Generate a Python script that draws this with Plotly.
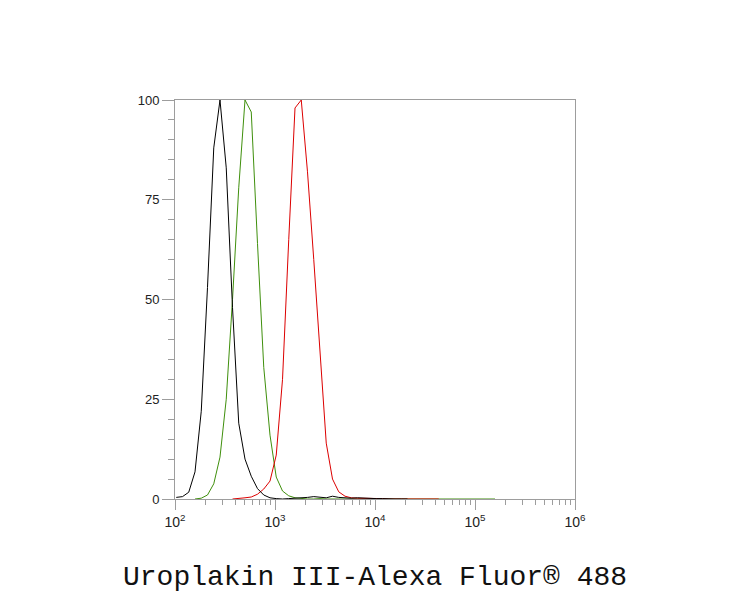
import plotly.graph_objects as go

# histogram bin centres (channel values, log-spaced)
channels = [
    102.9, 118.9, 137.2, 158.5, 183.0, 211.3, 244.1, 281.8, 325.4, 375.8,
    433.9, 501.2, 578.8, 668.3, 771.8, 891.3, 1029, 1189, 1372, 1585,
    1830, 2113, 2441, 2818, 3254, 3758, 4339, 5012, 5788, 6683,
    7718, 8913, 10290, 11890, 13720, 15850, 18300, 21130, 24410, 28180,
    32540, 37580, 43390, 50120, 57880, 66830, 77180, 89130, 102900, 118900,
    137200, 158500,
]

# % of max counts
black_counts = [
    0.4, 0.6, 1.7, 6.8, 22, 53, 88, 100, 83, 48,
    19, 10, 5.7, 2.6, 1.0, 0.3, 0.1, 0, 0.1, 0.2,
    0.2, 0.4, 0.6, 0.4, 0.3, 0.7, 0.4, 0.3, 0.2, 0.3,
    0.2, 0.2, 0.1, 0.1, 0, 0, 0, 0,
]
green_counts = [
    None, None, None, 0, 0.2, 1.0, 3.8, 10.5, 25, 50,
    78, 100, 97, 64, 33, 16, 5.5, 2.0, 0.8, 0.3,
    0.1, 0, 0, 0.1, 0, 0, 0.1, 0, 0, 0,
    0, 0, 0, 0, 0, 0, 0, 0, 0, 0,
    0, 0, 0, 0, 0, 0, 0, 0, 0, 0,
    0, 0,
]
red_counts = [
    None, None, None, None, None, None, None, None, None, 0,
    0.1, 0.3, 0.5, 1.2, 2.5, 4.5, 11, 30, 65, 98,
    100, 82, 60, 37, 14, 5, 1.8, 0.7, 0.3, 0.2,
    0.2, 0.1, 0.2, 0.1, 0, 0, 0, 0, 0, 0,
    0, 0, 0,
]

series = [
    ("Control", green_counts, "#3f8f0c"),
    ("Uroplakin III", red_counts, "#dc0000"),
    ("Isotype", black_counts, "#000000"),
]

x_major = [1e2, 1e3, 1e4, 1e5, 1e6]
x_major_text = ["10<sup>2</sup>", "10<sup>3</sup>", "10<sup>4</sup>", "10<sup>5</sup>", "10<sup>6</sup>"]
x_minor = [m * 10 ** e for e in range(2, 6) for m in range(2, 10)]
y_major = [0, 25, 50, 75, 100]
y_minor = list(range(0, 101, 5))

title_text = "Uroplakin III-Alexa Fluor® 488"

fig = go.Figure()
for name, vals, color in series:
    fig.add_trace(go.Scatter(
        x=channels[:len(vals)], y=vals, mode="lines", name=name,
        line=dict(color=color, width=1), showlegend=False, hoverinfo="skip",
    ))

axis_color = "#9d9d9d"
fig.update_layout(
    width=750, height=600,
    margin=dict(l=175, r=175, t=100, b=101),
    paper_bgcolor="white", plot_bgcolor="white",
    xaxis=dict(
        type="log", range=[2, 6], showgrid=False, zeroline=False,
        showline=True, linecolor=axis_color, linewidth=1, mirror=True,
        ticks="outside", ticklen=10, tickcolor=axis_color, tickwidth=1,
        tickmode="array", tickvals=x_major, ticktext=x_major_text,
        tickfont=dict(family="Liberation Sans, Arial", size=14, color="#222222"),
        minor=dict(ticks="outside", ticklen=5, tickcolor=axis_color, tickwidth=1,
                   tickmode="array", tickvals=x_minor, showgrid=False),
        layer="below traces",
    ),
    yaxis=dict(
        range=[0, 100], showgrid=False, zeroline=False,
        showline=True, linecolor=axis_color, linewidth=1, mirror=True,
        ticks="outside", ticklen=12, tickcolor=axis_color, tickwidth=1,
        tickmode="array", tickvals=y_major,
        tickfont=dict(family="Liberation Sans, Arial", size=13, color="#222222"),
        minor=dict(ticks="outside", ticklen=6, tickcolor=axis_color, tickwidth=1,
                   tickmode="array", tickvals=y_minor, showgrid=False),
        layer="below traces",
    ),
    annotations=[dict(
        text=title_text, xref="paper", yref="paper", x=0.5, y=-0.1955,
        xanchor="center", yanchor="middle", showarrow=False,
        font=dict(family="Liberation Mono, Courier New", size=28, color="#111111"),
    )],
)

fig.write_html(
    "out.html",
    config={"displayModeBar": False},
    post_script="document.body.style.margin='0px';",
)
